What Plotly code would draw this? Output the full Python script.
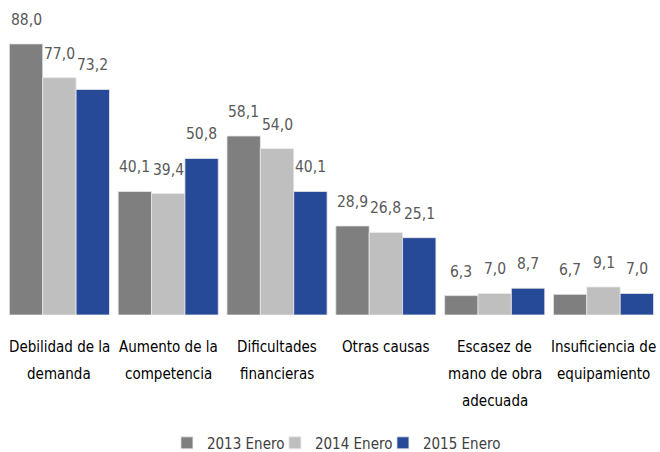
import plotly.graph_objects as go

categories = ["Debilidad de la<br>demanda", "Aumento de la<br>competencia", "Dificultades<br>financieras",
              "Otras causas", "Escasez de<br>mano de obra<br>adecuada", "Insuficiencia de<br>equipamiento"]
series_names = ["2013 Enero", "2014 Enero", "2015 Enero"]
v2013 = [88.0, 40.1, 58.1, 28.9, 6.3, 6.7]
v2014 = [77.0, 39.4, 54.0, 26.8, 7.0, 9.1]
v2015 = [73.2, 50.8, 40.1, 25.1, 8.7, 7.0]
colors = ["#7F7F7F", "#BFBFBF", "#274A98"]

FONT = "DejaVu Sans Condensed, Liberation Sans Narrow, Roboto, sans-serif"
bargap = 0.08
fig = go.Figure()
all_vals = [v2013, v2014, v2015]
for name, vals, col in zip(series_names, all_vals, colors):
    fig.add_trace(go.Bar(x=categories, y=vals, name=name,
                         marker=dict(color=col, line=dict(color="#E8E8E8", width=0.8))))
# empty spacer entry so the last legend label is not clipped
fig.add_trace(go.Scatter(x=[None], y=[None], name=" ", mode="markers",
                         marker=dict(color="rgba(0,0,0,0)", size=1, line=dict(width=0, color="rgba(0,0,0,0)")),
                         hoverinfo="skip"))

w = (1 - bargap) / 3
annotations = []
for j, vals in enumerate(all_vals):
    for i, v in enumerate(vals):
        annotations.append(dict(x=i + (j - 1) * w, y=v, xref="x", yref="y", text=f"{v:.1f}".replace(".", ","),
                                showarrow=False, yanchor="bottom", yshift=13,
                                font=dict(family=FONT, size=15.5, color="#595959")))
# category labels (one annotation per line to match the wide line spacing)
for i, cat in enumerate(categories):
    for k, line in enumerate(cat.split("<br>")):
        annotations.append(dict(x=i, y=0, xref="x", yref="y", text=line, showarrow=False,
                                yanchor="middle", yshift=-(32 + 27 * k),
                                font=dict(family=FONT, size=15, color="#000000")))

fig.update_layout(
    width=660, height=452, barmode="group", bargap=bargap, bargroupgap=0,
    margin=dict(l=5, r=2, t=10, b=137, autoexpand=False),
    plot_bgcolor="white", paper_bgcolor="white",
    font=dict(family=FONT, size=15, color="#000000"),
    xaxis=dict(showline=False, showticklabels=False, ticks=""),
    yaxis=dict(range=[0, 99], visible=False, showgrid=False),
    legend=dict(orientation="h", x=0.248, xanchor="left", y=-0.42, yanchor="middle",
                font=dict(family=FONT, size=15, color="#404040"),
                entrywidth=63, entrywidthmode="pixels", itemwidth=30),
    annotations=annotations, showlegend=True,
)
fig.write_html("out.html", config={"displayModeBar": False},
               post_script="document.body.style.margin='0';document.body.style.padding='0';")
